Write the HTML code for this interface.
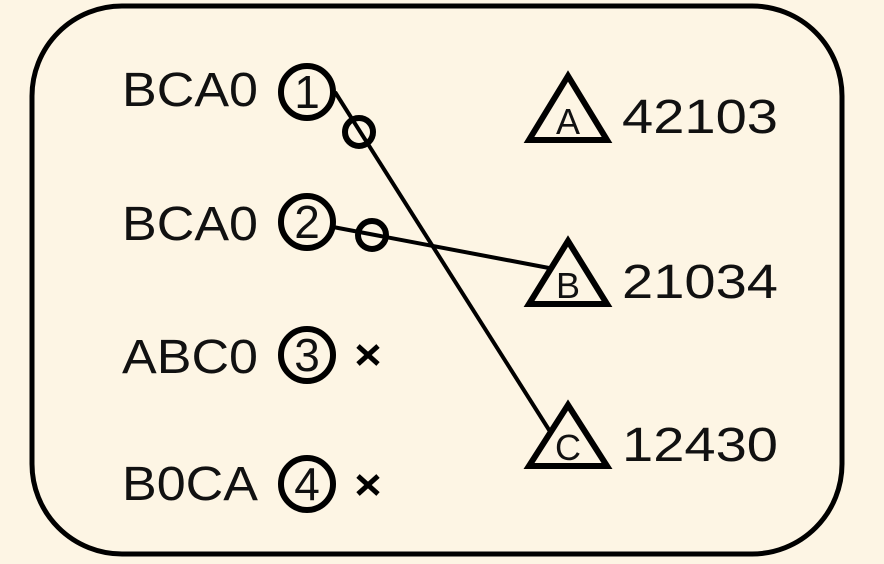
<!DOCTYPE html>
<html><head><meta charset="utf-8"><style>
html,body{margin:0;padding:0;background:#fdf5e4;}
svg{display:block}
text{font-family:"Liberation Sans",sans-serif;fill:#111}
</style></head><body>
<svg width="884" height="564" viewBox="0 0 884 564">
<rect x="0" y="0" width="884" height="564" fill="#fdf5e4"/>
<rect x="32" y="6" width="810" height="548" rx="90" ry="90" fill="none" stroke="#000" stroke-width="5"/>
<g font-size="48">
<text x="122" y="106" textLength="136" lengthAdjust="spacingAndGlyphs">BCA0</text>
<text x="122" y="240" textLength="136" lengthAdjust="spacingAndGlyphs">BCA0</text>
<text x="122" y="373" textLength="136" lengthAdjust="spacingAndGlyphs">ABC0</text>
<text x="122" y="500" textLength="136" lengthAdjust="spacingAndGlyphs">B0CA</text>
<text x="622" y="133" textLength="156" lengthAdjust="spacingAndGlyphs">42103</text>
<text x="622" y="298" textLength="156" lengthAdjust="spacingAndGlyphs">21034</text>
<text x="622" y="461" textLength="156" lengthAdjust="spacingAndGlyphs">12430</text>
</g>
<g fill="none" stroke="#000" stroke-width="6">
<circle cx="307" cy="92" r="26"/>
<circle cx="307" cy="222" r="26"/>
<circle cx="307" cy="355" r="26"/>
<circle cx="307" cy="484" r="26"/>
<circle cx="359" cy="132" r="14"/>
<circle cx="372" cy="235" r="14"/>
<polygon points="568,76 529,140 607,140" stroke-width="6"/>
<polygon points="568,241 529,304 607,304" stroke-width="6"/>
<polygon points="568,405 529,466 607,466" stroke-width="6"/>
</g>
<g stroke="#000" stroke-width="4">
<line x1="335" y1="92" x2="551" y2="433"/>
<line x1="333" y1="227" x2="549" y2="268"/>
<line x1="358" y1="346" x2="378" y2="364" stroke-width="5"/><line x1="378" y1="346" x2="358" y2="364" stroke-width="5"/>
<line x1="358" y1="476" x2="378" y2="494" stroke-width="5"/><line x1="378" y1="476" x2="358" y2="494" stroke-width="5"/>
</g>
<g font-size="46" text-anchor="middle">
<text x="307" y="108">1</text>
<text x="307" y="238">2</text>
<text x="307" y="371">3</text>
<text x="307" y="500">4</text>
</g>
<g font-size="36" text-anchor="middle">
<text x="568" y="134">A</text>
<text x="568" y="298">B</text>
<text x="568" y="460">C</text>
</g>
</svg>
</body></html>
